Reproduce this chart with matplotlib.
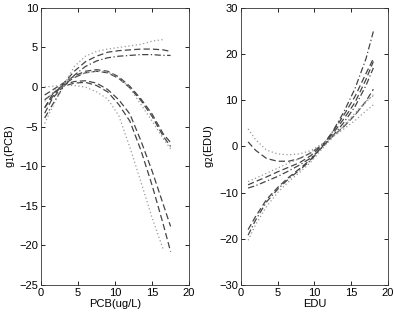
import numpy as np
import matplotlib
matplotlib.use('Agg')
import matplotlib.pyplot as plt

plt.rcParams['font.family'] = ['Liberation Sans', 'DejaVu Sans']
plt.rcParams['font.size'] = 8

nan = np.nan

# left panel: g1(PCB)
pcb_x = [0.5, 1.5, 3, 4.5, 6, 7.5, 9, 10.5, 12, 13.5, 15, 16.5, 17.5]
a_dash = [-2.6, -1.3, 0.4, 2.0, 3.2, 3.9, 4.4, 4.6, 4.7, 4.8, 4.8, 4.7, 4.5]
a_dashdot = [-3.9, -2.3, 0.0, 1.5, 2.6, 3.3, 3.7, 3.9, 4.0, 4.1, 4.1, 4.0, 4.0]
a_dot = [-4.6, -2.6, 0.1, 2.6, 3.9, 4.5, 4.8, 5.0, 5.2, 5.4, 5.8, 6.0, nan]
b_dash1 = [-1.0, -0.4, 0.5, 1.4, 2.0, 2.2, 2.0, 1.3, 0.1, -1.5, -3.4, -5.9, -7.0]
b_dash2 = [-1.6, -0.9, 0.3, 1.2, 1.8, 2.0, 1.8, 1.1, -0.1, -1.7, -3.7, -6.2, -7.5]
b_dot = [-1.8, -0.8, 0.5, 1.3, 1.8, 2.0, 1.9, 1.2, -0.1, -2.2, -4.3, -6.5, -7.8]
c_dash1 = [-2.6, -1.0, 0.3, 0.7, 0.8, 0.5, -0.3, -1.6, -3.4, -6.8, -10.6, -14.8, -17.6]
c_dash2 = [-3.3, -1.5, 0.1, 0.5, 0.6, 0.2, -0.6, -2.2, -4.3, -8.0, -12.4, -17.3, -20.8]
c_dot = [0.0, 0.1, 0.2, 0.2, 0.0, -0.6, -1.5, -3.6, -7.6, -12.0, -16.5, -20.5, nan]

# right panel: g2(EDU)
edu_x = [1, 2, 3.5, 5, 6.5, 8, 9.5, 11, 12.5, 14, 15.5, 17, 18]
r1_dash = [1.0, -0.8, -2.6, -3.2, -3.2, -2.6, -1.4, 0.3, 2.2, 4.3, 6.8, 9.8, 12.4]
r1_dot = [3.8, 1.5, -0.8, -1.6, -1.8, -1.6, -0.9, 0.5, 2.1, 3.8, 5.6, 7.7, 9.0]
r2_dash = [-8.3, -7.6, -6.6, -5.5, -4.5, -3.5, -2.0, 0.2, 2.8, 6.0, 9.5, 14.5, 18.4]
r2_dashdot = [-9.0, -8.5, -7.5, -6.5, -5.3, -4.0, -2.5, -0.3, 2.3, 5.2, 8.6, 13.2, 17.0]
r2_dot = [-7.6, -6.9, -5.8, -4.7, -3.6, -2.6, -1.3, 0.4, 2.2, 4.4, 6.8, 9.6, 11.2]
r3_dashdot = [-19.2, -16.0, -12.0, -9.3, -7.0, -5.1, -3.0, -0.2, 3.3, 7.5, 12.5, 19.0, 24.9]
r3_dash = [-18.0, -15.2, -11.5, -8.9, -6.7, -4.8, -2.8, 0.0, 3.2, 6.8, 10.8, 15.8, 19.0]
r3_dot = [-20.3, -17.0, -13.0, -10.0, -7.6, -5.6, -3.4, -0.6, 2.0, 4.6, 7.2, 9.8, 11.0]

dark = '#454545'
light = '#999999'
dash = dict(color=dark, lw=0.9, dashes=(5, 2.5))
dashdot = dict(color=dark, lw=0.9, dashes=(5, 2, 1, 2))
dot = dict(color=light, lw=0.9, dashes=(1, 2))

fig = plt.figure(figsize=(3.94, 3.16), dpi=100)
ax1 = fig.add_axes([0.104, 0.098, 0.376, 0.877])
ax2 = fig.add_axes([0.611, 0.098, 0.374, 0.877])

for y in (a_dash, b_dash1, b_dash2, c_dash1, c_dash2):
    ax1.plot(pcb_x, y, **dash)
ax1.plot(pcb_x, a_dashdot, **dashdot)
for y in (a_dot, b_dot, c_dot):
    ax1.plot(pcb_x, y, **dot)

for y in (r1_dash, r2_dash, r3_dash):
    ax2.plot(edu_x, y, **dash)
for y in (r2_dashdot, r3_dashdot):
    ax2.plot(edu_x, y, **dashdot)
for y in (r1_dot, r2_dot, r3_dot):
    ax2.plot(edu_x, y, **dot)

ax1.set_xlim(0, 20)
ax1.set_ylim(-25, 10)
ax1.set_xticks([0, 5, 10, 15, 20])
ax1.set_yticks(range(-25, 11, 5))
ax1.set_yticklabels(['\u221225', '\u221220', '\u221215', '\u221210', '\u22125', '0', '5', '10'])
ax1.set_xlabel('PCB(ug/L)', labelpad=1)
ax1.set_ylabel('g$_1$(PCB)', labelpad=2)

ax2.set_xlim(0, 20)
ax2.set_ylim(-30, 30)
ax2.set_xticks([0, 5, 10, 15, 20])
ax2.set_yticks(range(-30, 31, 10))
ax2.set_yticklabels(['\u221230', '\u221220', '\u221210', '0', '10', '20', '30'])
ax2.set_xlabel('EDU', labelpad=1)
ax2.set_ylabel('g$_2$(EDU)', labelpad=2)

for ax in (ax1, ax2):
    ax.tick_params(direction='in', top=True, right=True, length=3, width=0.6, pad=2)
    for s in ax.spines.values():
        s.set_linewidth(0.6)
        s.set_color('#333333')

fig.savefig('out.png', dpi=100)
